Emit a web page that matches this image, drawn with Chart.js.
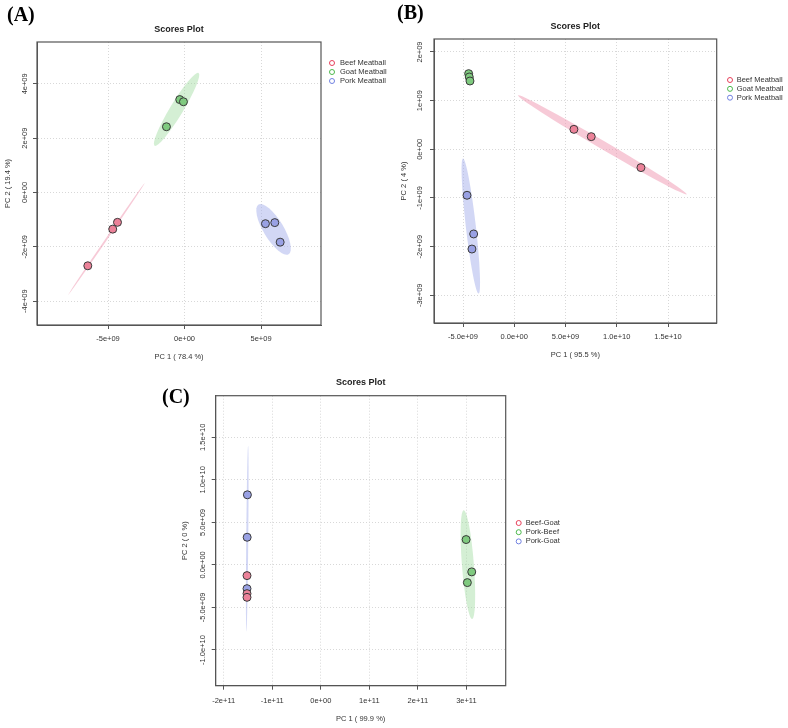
<!DOCTYPE html>
<html><head><meta charset="utf-8">
<script src="https://cdn.jsdelivr.net/npm/chart.js@4.4.1/dist/chart.umd.min.js"></script>
<style>
html,body{margin:0;padding:0;background:#fff;}
body{width:788px;height:728px;position:relative;overflow:hidden;}
canvas{position:absolute;}
.lab{position:absolute;font:bold 20px 'Liberation Serif','Times New Roman',serif;line-height:20px;color:#000;}
</style></head><body>
<canvas id="ca" width="394" height="365" style="left:0;top:0"></canvas>
<canvas id="cb" width="394" height="365" style="left:394px;top:0"></canvas>
<canvas id="cc" width="450" height="368" style="left:150px;top:360px"></canvas>
<div class="lab" style="left:7px;top:4px">(A)</div>
<div class="lab" style="left:397px;top:2px">(B)</div>
<div class="lab" style="left:162px;top:386px">(C)</div>
<script>
// ---------- Panel A data ----------
const catsA = ['Beef Meatball', 'Goat Meatball', 'Pork Meatball'];
const beefA_x = [-4.38e9, -4.69e9, -6.32e9];
const beefA_y = [-1.10e9, -1.35e9, -2.70e9];
const goatA_x = [-0.31e9, -0.07e9, -1.18e9];
const goatA_y = [3.42e9, 3.34e9, 2.42e9];
const porkA_x = [5.29e9, 5.90e9, 6.25e9];
const porkA_y = [-1.15e9, -1.11e9, -1.83e9];
// ellipses: [centerX, centerY, majorX, majorY, minorX, minorY] (data units)
const ellBeefA = [-5.11e9, -1.72e9, 2.50e9, 2.06e9, 0.05e9, -0.02e9];
const ellGoatA = [-0.52e9, 3.06e9, 1.44e9, 1.34e9, 0.364e9, -0.123e9];
const ellPorkA = [5.82e9, -1.36e9, 0.98e9, -0.917e9, 0.562e9, 0.187e9];
const xTicksA = [-5e9, 0, 5e9];
const xLabelsA = ['-5e+09', '0e+00', '5e+09'];
const yTicksA = [-4e9, -2e9, 0, 2e9, 4e9];
const yLabelsA = ['-4e+09', '-2e+09', '0e+00', '2e+09', '4e+09'];

// ---------- Panel B data ----------
const catsB = ['Beef Meatball', 'Goat Meatball', 'Pork Meatball'];
const beefB_x = [5.82e9, 7.51e9, 12.36e9];
const beefB_y = [0.41e9, 0.26e9, -0.376e9];
const goatB_x = [-4.45e9, -4.39e9, -4.32e9];
const goatB_y = [1.555e9, 1.486e9, 1.404e9];
const porkB_x = [-4.61e9, -3.96e9, -4.13e9];
const porkB_y = [-0.945e9, -1.74e9, -2.05e9];
const ellBeefB = [8.59e9, 0.092e9, 8.23e9, -1.017e9, 0.197e9, 0.071e9];
const ellPorkB = [-4.24e9, -1.578e9, 0.761e9, -1.387e9, 0.485e9, 0.012e9];
const xTicksB = [-5e9, 0, 5e9, 1e10, 1.5e10];
const xLabelsB = ['-5.0e+09', '0.0e+00', '5.0e+09', '1.0e+10', '1.5e+10'];
const yTicksB = [-3e9, -2e9, -1e9, 0, 1e9, 2e9];
const yLabelsB = ['-3e+09', '-2e+09', '-1e+09', '0e+00', '1e+09', '2e+09'];

// ---------- Panel C data ----------
const catsC = ['Beef-Goat', 'Pork-Beef', 'Pork-Goat'];
const bgC_x = [-1.52e11, -1.52e11, -1.52e11];
const bgC_y = [-1.26e9, -3.38e9, -3.81e9];
const pbC_x = [2.994e11, 3.11e11, 3.02e11];
const pbC_y = [2.98e9, -0.82e9, -2.08e9];
const pgC_x = [-1.512e11, -1.517e11, -1.52e11];
const pgC_y = [8.24e9, 3.25e9, -2.79e9];
const ellPbC = [3.031e11, 0.035e9, 0.0865e11, -6.39e9, 0.123e11, 0.054e9];
const ellPgC = [-1.515e11, 3.1e9, -0.0175e11, -10.92e9, 0.0206e11, 0];
const xTicksC = [-2e11, -1e11, 0, 1e11, 2e11, 3e11];
const xLabelsC = ['-2e+11', '-1e+11', '0e+00', '1e+11', '2e+11', '3e+11'];
const yTicksC = [-1e10, -5e9, 0, 5e9, 1e10, 1.5e10];
const yLabelsC = ['-1.0e+10', '-5.0e+09', '0.0e+00', '5.0e+09', '1.0e+10', '1.5e+10'];

// ---------- styles ----------
const FONT = "'Liberation Sans', Arial, sans-serif";
const RED = {fill: '#EC8299', line: '#E6405A', ell: 'rgba(240,150,175,0.5)'};
const GREEN = {fill: '#7FCA7F', line: '#4CB84C', ell: 'rgba(160,220,160,0.45)'};
const BLUE = {fill: '#99A1E4', line: '#7080E0', ell: 'rgba(165,175,235,0.5)'};

function pts(xs, ys) { return xs.map((x, i) => ({x: x, y: ys[i]})); }

function ellipsePlugin(list) {
  return {
    id: 'ellipses',
    beforeDatasetsDraw(chart) {
      const xs = chart.scales.x, ys = chart.scales.y, ctx = chart.ctx, ca = chart.chartArea;
      ctx.save();
      ctx.beginPath();
      ctx.rect(ca.left, ca.top, ca.right - ca.left, ca.bottom - ca.top);
      ctx.clip();
      list.forEach(it => {
        const e = it.e;
        const cx = xs.getPixelForValue(e[0]), cy = ys.getPixelForValue(e[1]);
        const ax = xs.getPixelForValue(e[0] + e[2]) - cx, ay = ys.getPixelForValue(e[1] + e[3]) - cy;
        const bx = xs.getPixelForValue(e[0] + e[4]) - cx, by = ys.getPixelForValue(e[1] + e[5]) - cy;
        ctx.save();
        ctx.transform(ax, ay, bx, by, cx, cy);
        ctx.beginPath();
        ctx.arc(0, 0, 1, 0, Math.PI * 2);
        ctx.restore();
        ctx.fillStyle = it.color;
        ctx.fill();
      });
      ctx.restore();
    }
  };
}

function frameLegendPlugin(lg, colors) {
  return {
    id: 'frameLegend',
    afterDraw(chart) {
      const ctx = chart.ctx, ca = chart.chartArea;
      ctx.save();
      ctx.strokeStyle = '#555';
      ctx.lineWidth = 1.2;
      ctx.strokeRect(ca.left, ca.top, ca.right - ca.left, ca.bottom - ca.top);
      ctx.font = '7.5px ' + FONT;
      ctx.textBaseline = 'middle';
      ctx.textAlign = 'left';
      chart.data.datasets.forEach((d, i) => {
        const y = ca.top + lg.dy + i * lg.gap;
        ctx.beginPath();
        ctx.arc(ca.right + lg.dx, y, 2.5, 0, Math.PI * 2);
        ctx.strokeStyle = colors[i].line;
        ctx.lineWidth = 1;
        ctx.stroke();
        ctx.fillStyle = '#333';
        ctx.fillText(d.label, ca.right + lg.tx, y);
      });
      ctx.restore();
    }
  };
}

function build(id, cfg) {
  const datasets = cfg.series.map((s, i) => ({
    label: cfg.cats[i],
    data: pts(s[0], s[1]),
    backgroundColor: cfg.colors[i].fill,
    borderColor: '#3a3a3a',
    borderWidth: 1,
    pointRadius: 4,
    pointHoverRadius: 4
  }));
  const gridOpts = {display: true, color: '#d8d8d8', lineWidth: 1, drawTicks: true, tickLength: 4,
    tickColor: '#555', tickWidth: 1, tickBorderDash: [], borderDash: [1, 2]};
  const borderOpts = {display: true, color: '#555', width: 1, dash: [1, 2]};
  new Chart(document.getElementById(id), {
    type: 'scatter',
    data: {datasets: datasets},
    options: {
      responsive: false,
      animation: false,
      events: [],
      layout: {padding: cfg.pad},
      plugins: {
        legend: {display: false},
        tooltip: {enabled: false},
        title: {display: true, text: 'Scores Plot', fullSize: false, color: '#222',
          font: {family: FONT, size: 9, weight: 'bold'}, padding: {top: cfg.tt, bottom: cfg.tb}}
      },
      scales: {
        x: {
          type: 'linear', position: 'bottom', min: cfg.xr[0], max: cfg.xr[1],
          afterBuildTicks: s => { s.ticks = cfg.xt.map(v => ({value: v})); },
          afterFit: s => { s.height = cfg.H; },
          ticks: {callback: (v, i) => cfg.xl[i], font: {family: FONT, size: 7.5}, color: '#333',
            padding: cfg.xpad, maxRotation: 0, minRotation: 0, autoSkip: false},
          grid: gridOpts, border: borderOpts,
          title: {display: true, text: cfg.xtitle, color: '#333', font: {family: FONT, size: 7.5},
            padding: {top: 0, bottom: 0}}
        },
        y: {
          type: 'linear', position: 'left', min: cfg.yr[0], max: cfg.yr[1],
          afterBuildTicks: s => { s.ticks = cfg.yt.map(v => ({value: v})); },
          afterFit: s => { s.width = cfg.W; },
          ticks: {callback: (v, i) => cfg.yl[i], font: {family: FONT, size: 7.5}, color: '#333',
            padding: cfg.ypad, minRotation: 90, maxRotation: 90, crossAlign: 'center', autoSkip: false},
          grid: gridOpts, border: borderOpts,
          title: {display: true, text: cfg.ytitle, color: '#333', font: {family: FONT, size: 7.5},
            padding: {top: cfg.ytp, bottom: 0}}
        }
      }
    },
    plugins: [ellipsePlugin(cfg.ell), frameLegendPlugin(cfg.leg, cfg.colors)]
  });
}

build('ca', {
  cats: catsA,
  series: [[beefA_x, beefA_y], [goatA_x, goatA_y], [porkA_x, porkA_y]],
  colors: [RED, GREEN, BLUE],
  ell: [{e: ellBeefA, color: RED.ell}, {e: ellGoatA, color: GREEN.ell}, {e: ellPorkA, color: BLUE.ell}],
  pad: {left: 0, top: 0, right: 73, bottom: 3.2}, W: 37, H: 36.8, tt: 24.6, tb: 6.6,
  xr: [-9.64e9, 8.92e9], yr: [-4.88e9, 5.54e9],
  xt: xTicksA, xl: xLabelsA, yt: yTicksA, yl: yLabelsA,
  xpad: 5.8, ypad: -3.8, ytp: 3,
  xtitle: 'PC 1 ( 78.4 %)', ytitle: 'PC 2 ( 19.4 %)',
  leg: {dx: 11, tx: 19, dy: 21, gap: 9}
});

build('cb', {
  cats: catsB,
  series: [[beefB_x, beefB_y], [goatB_x, goatB_y], [porkB_x, porkB_y]],
  colors: [RED, GREEN, BLUE],
  ell: [{e: ellBeefB, color: RED.ell}, {e: ellPorkB, color: BLUE.ell}],
  pad: {left: 0, top: 0, right: 71.3, bottom: 5.8}, W: 40, H: 36.2, tt: 21.3, tb: 6.9,
  xr: [-7.83e9, 1.975e10], yr: [-3.57e9, 2.267e9],
  xt: xTicksB, xl: xLabelsB, yt: yTicksB, yl: yLabelsB,
  xpad: 5.5, ypad: -1.8, ytp: 5.5,
  xtitle: 'PC 1 ( 95.5 %)', ytitle: 'PC 2 ( 4 %)',
  leg: {dx: 13.3, tx: 20, dy: 41, gap: 8.85}
});

build('cc', {
  cats: catsC,
  series: [[bgC_x, bgC_y], [pbC_x, pbC_y], [pgC_x, pgC_y]],
  colors: [RED, GREEN, BLUE],
  ell: [{e: ellPbC, color: GREEN.ell}, {e: ellPgC, color: BLUE.ell}],
  pad: {left: 25.7, top: 0, right: 94.3, bottom: 4.2}, W: 40, H: 38.1, tt: 17.3, tb: 7.6,
  xr: [-2.165e11, 3.81e11], yr: [-1.42e10, 1.989e10],
  xt: xTicksC, xl: xLabelsC, yt: yTicksC, yl: yLabelsC,
  xpad: 6.5, ypad: -5.9, ytp: 4.8,
  xtitle: 'PC 1 ( 99.9 %)', ytitle: 'PC 2 ( 0 %)',
  leg: {dx: 13, tx: 20, dy: 127.3, gap: 9.2}
});
</script>
</body></html>
